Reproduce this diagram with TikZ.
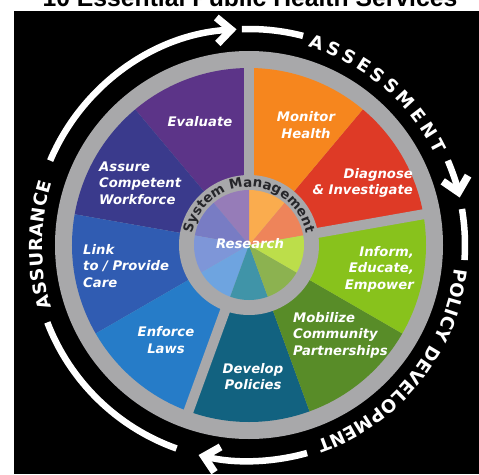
\documentclass[tikz,border=0pt]{standalone}
\usepackage{fontspec}
\setmainfont{DejaVu Sans}
\newfontfamily\titlefamily{Liberation Sans}
\newfontfamily\labfamily{DejaVu Sans}
\usetikzlibrary{decorations.text,arrows.meta}
\definecolor{ringgrey}{RGB}{168,168,170}
\definecolor{smtext}{RGB}{38,38,42}
% outer wedges
\definecolor{diag}{RGB}{222,58,38}
\definecolor{moni}{RGB}{246,134,30}
\definecolor{eval}{RGB}{92,52,136}
\definecolor{assu}{RGB}{58,58,140}
\definecolor{link}{RGB}{48,92,178}
\definecolor{enfo}{RGB}{38,124,200}
\definecolor{deve}{RGB}{18,98,128}
\definecolor{mobi}{RGB}{88,140,40}
\definecolor{info}{RGB}{136,194,28}
% inner research slices
\definecolor{idiag}{RGB}{238,132,90}
\definecolor{imoni}{RGB}{250,172,78}
\definecolor{ieval}{RGB}{150,124,184}
\definecolor{iassu}{RGB}{120,124,196}
\definecolor{ilink}{RGB}{126,150,216}
\definecolor{ienfo}{RGB}{110,164,224}
\definecolor{ideve}{RGB}{64,148,168}
\definecolor{imobi}{RGB}{140,178,80}
\definecolor{iinfo}{RGB}{188,222,74}
\newcommand\labfont{\labfamily\bfseries\itshape\fontsize{13.2pt}{16.5pt}\selectfont}
\newcommand\ringfont{\labfamily\bfseries\fontsize{18pt}{18pt}\selectfont\color{white}}
\newcommand\smfont{\labfamily\bfseries\fontsize{13.4pt}{13.4pt}\selectfont\color{smtext}}
\begin{document}
\begin{tikzpicture}[x=1pt,y=1pt,
  lab/.style={text=white, font=\labfont, inner sep=0pt},
  ringline/.style={white, line width=6.5pt},
  ringarrow/.style={ringline, -{Straight Barb[length=14pt,width=26pt,line width=7.5pt]}},
  ringtext/.style={decorate, decoration={text along path, text={|\ringfont|#1}, text align={fit to path}}},
]
\useasboundingbox (-249,-229) rectangle (230,245);
\clip (-249,-229) rectangle (230,245);
\fill[white] (-249,-229) rectangle (230,245);
\fill[black] (-235,-229) rectangle (230,234);
\node[font=\titlefamily\bfseries\fontsize{24.7pt}{24.7pt}\selectfont, anchor=base, inner sep=0pt] (title) at (1,238) {10 Essential Public Health Services};

% wheel
\fill[ringgrey] (0,0) circle (194);
\foreach \a/\c in {10/diag,50/moni,90/eval,130/assu,170/link,210/enfo,250/deve,290/mobi,330/info}
  \fill[\c] (0,0) -- (\a:177) arc[start angle=\a, end angle=\a+40, radius=177] -- cycle;
\foreach \a in {90,10,250}
  \draw[ringgrey, line width=10pt] (0,0) -- (\a:180);
\fill[ringgrey] (0,0) circle (70);
\foreach \a/\c in {10/idiag,50/imoni,90/ieval,130/iassu,170/ilink,210/ienfo,250/ideve,290/imobi,330/iinfo}
  \fill[\c] (0,0) -- (\a:55) arc[start angle=\a, end angle=\a+40, radius=55] -- cycle;

\path[decorate, decoration={text along path, text={|\smfont|System Management}, text align=center}]
  (173:58) arc[start angle=173, end angle=7, radius=58];

% labels
\node[lab] (research) at (1,1) {Research};
\node[lab, align=center] (evaluate) at (-49,123) {Evaluate};
\node[lab, align=left, anchor=west] (assure) at (-150,62) {Assure\\Competent\\Workforce};
\node[lab, align=left, anchor=west] (link) at (-166,-21) {Link\\to / Provide\\Care};
\node[lab, align=center] (enforce) at (-83,-95) {Enforce\\Laws};
\node[lab, align=center] (develop) at (4,-131.5) {Develop\\Policies};
\node[lab, align=left, anchor=west] (mobilize) at (44,-90) {Mobilize\\Community\\Partnerships};
\node[lab, align=right, anchor=east] (inform) at (165,-24) {Inform,\\Educate,\\Empower};
\node[lab, align=right, anchor=east] (diagnose) at (164,62) {Diagnose\\\& Investigate};
\node[lab, align=center] (monitor) at (57,120) {Monitor\\Health};

% outer cycle
\draw[ringarrow] (157:216) arc[start angle=157, end angle=93.3, radius=216];
\draw[ringline] (91.9:216) arc[start angle=91.9, end angle=75.5, radius=216];
\path[ringtext=ASSESSMENT] (73.5:207) arc[start angle=73.5, end angle=26, radius=207];
\draw[ringarrow] (23:216) arc[start angle=23, end angle=12.7, radius=216];
\draw[ringline] (9.6:216) arc[start angle=9.6, end angle=-4, radius=216];
\path[ringtext=POLICY DEVELOPMENT] (-6.5:207) arc[start angle=-6.5, end angle=-71, radius=207];
\draw[ringarrow] (-74.4:216) arc[start angle=-74.4, end angle=-103.5, radius=216];
\draw[ringline] (-109.6:216) arc[start angle=-109.6, end angle=-159, radius=216];
\path[ringtext=ASSURANCE] (197.5:207) arc[start angle=197.5, end angle=162.5, radius=207];
\end{tikzpicture}
\end{document}
